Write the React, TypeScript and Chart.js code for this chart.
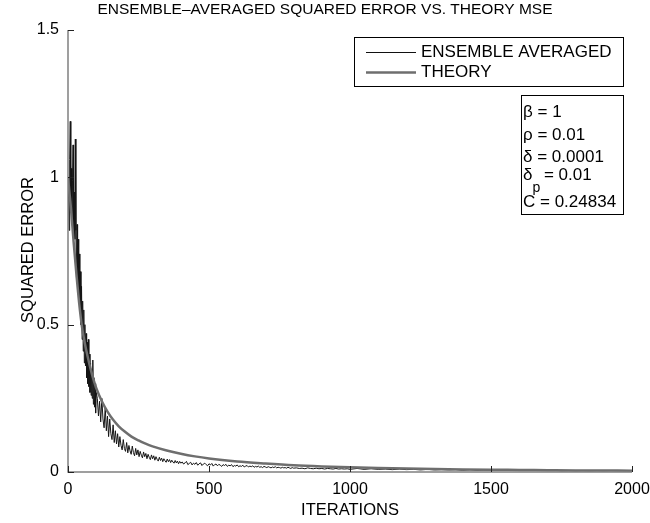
import React, { useEffect, useRef } from "react";
import { Chart, registerables } from "chart.js";

Chart.register(...registerables);

const TITLE = "ENSEMBLE\u2013AVERAGED SQUARED ERROR VS. THEORY MSE";
const X_LABEL = "ITERATIONS";
const Y_LABEL = "SQUARED ERROR";
const X_TICKS = [0, 500, 1000, 1500, 2000];
const Y_TICKS = [0, 0.5, 1, 1.5];
const Y_TICK_LABELS = ["0", "0.5", "1", "1.5"];
const LEGEND_LABELS = ["ENSEMBLE AVERAGED", "THEORY"];

// Theory MSE curve (iteration, value)
const theoryIter = [0, 5, 10, 20, 30, 40, 50, 60, 70, 80, 90, 100, 120, 140, 160, 180, 200, 225, 250, 275, 300, 350, 400, 450, 500, 600, 700, 800, 900, 1000, 1100, 1200, 1300, 1400, 1500, 1600, 1700, 1800, 1900, 2000];
const theoryVal = [1.0, 0.95, 0.9, 0.78, 0.67, 0.57, 0.49, 0.435, 0.39, 0.35, 0.315, 0.285, 0.24, 0.205, 0.177, 0.155, 0.138, 0.12, 0.107, 0.096, 0.087, 0.073, 0.062, 0.053, 0.046, 0.036, 0.029, 0.023, 0.019, 0.016, 0.0135, 0.0115, 0.01, 0.0088, 0.0078, 0.007, 0.0062, 0.0055, 0.005, 0.0045];

// Ensemble-averaged squared error
// segment A: iterations 0..100 step 2
const ensA = [
  1.0, 0.93, 0.82, 1.06, 1.19, 0.88, 1.03, 0.84, 0.99, 1.11,
  0.8, 0.95, 0.79, 1.13, 0.82, 0.66, 0.84, 0.62, 0.79, 0.6,
  0.74, 0.55, 0.68, 0.5, 0.63, 0.45, 0.58, 0.41, 0.55, 0.37,
  0.5, 0.36, 0.47, 0.32, 0.44, 0.3, 0.45, 0.29, 0.4, 0.27,
  0.37, 0.26, 0.35, 0.25, 0.38, 0.23, 0.32, 0.22, 0.3, 0.2,
  0.27,
];
// segment B: iterations 104..400 step 4
const ensB = [
  0.25, 0.19, 0.24, 0.17, 0.25, 0.18, 0.15, 0.22, 0.14, 0.19,
  0.12, 0.18, 0.13, 0.11, 0.16, 0.1, 0.14, 0.095, 0.13, 0.085,
  0.12, 0.09, 0.075, 0.11, 0.08, 0.07, 0.1, 0.065, 0.09, 0.072,
  0.06, 0.088, 0.066, 0.055, 0.08, 0.058, 0.075, 0.052, 0.07, 0.057,
  0.048, 0.068, 0.052, 0.063, 0.045, 0.06, 0.05, 0.042, 0.058, 0.045,
  0.055, 0.04, 0.052, 0.043, 0.037, 0.05, 0.039, 0.047, 0.035, 0.045,
  0.038, 0.033, 0.044, 0.035, 0.042, 0.032, 0.04, 0.034, 0.03, 0.039,
  0.031, 0.037, 0.028, 0.036, 0.03,
];
// segment C: iterations 405..800 step 5
const ensC = [
  0.034, 0.027, 0.031, 0.036, 0.025, 0.029, 0.033, 0.024, 0.03, 0.026,
  0.032, 0.023, 0.028, 0.031, 0.022, 0.027, 0.03, 0.025, 0.021, 0.028,
  0.024, 0.029, 0.02, 0.025, 0.027, 0.021, 0.026, 0.023, 0.019, 0.025,
  0.022, 0.026, 0.019, 0.023, 0.021, 0.025, 0.018, 0.022, 0.02, 0.024,
  0.018, 0.021, 0.019, 0.023, 0.017, 0.02, 0.022, 0.017, 0.02, 0.018,
  0.021, 0.016, 0.019, 0.017, 0.02, 0.016, 0.018, 0.015, 0.019, 0.017,
  0.015, 0.018, 0.016, 0.014, 0.017, 0.015, 0.018, 0.014, 0.016, 0.015,
  0.013, 0.016, 0.014, 0.015, 0.013, 0.016, 0.014, 0.012, 0.015, 0.013,
];
// segment D: iterations 810..1000 step 10
const ensD = [0.014, 0.012, 0.013, 0.011, 0.014, 0.012, 0.011, 0.013, 0.011, 0.012, 0.01, 0.012, 0.011, 0.01, 0.012, 0.01, 0.011, 0.01, 0.011, 0.009];
// segment E: iterations 1025..2000 step 25
const ensE = [0.012, 0.009, 0.011, 0.009, 0.01, 0.008, 0.01, 0.008, 0.009, 0.007, 0.009, 0.007, 0.008, 0.007, 0.008, 0.006, 0.008, 0.006, 0.007, 0.006, 0.007, 0.005, 0.007, 0.005, 0.006, 0.005, 0.006, 0.005, 0.006, 0.004, 0.005, 0.004, 0.005, 0.004, 0.005, 0.004, 0.005, 0.004, 0.004, 0.004];

const FONT = '"Liberation Sans", Arial, Helvetica, sans-serif';

function segment(vals: number[], start: number, step: number) {
  return vals.map((v, i) => ({ x: start + i * step, y: v }));
}

export default function App() {
  const ref = useRef<HTMLCanvasElement | null>(null);

  useEffect(() => {
    if (!ref.current) return;
    const ensemble = [
      ...segment(ensA, 0, 2),
      ...segment(ensB, 104, 4),
      ...segment(ensC, 405, 5),
      ...segment(ensD, 810, 10),
      ...segment(ensE, 1025, 25),
    ];
    const theory = theoryIter.map((x, i) => ({ x, y: theoryVal[i] }));

    const overlay = {
      id: "overlay",
      afterDraw(chart: any) {
        const ctx = chart.ctx;
        const xs = chart.scales.x;
        const ys = chart.scales.y;
        const x0 = xs.getPixelForValue(0);
        const x1 = xs.getPixelForValue(2000);
        const y0 = ys.getPixelForValue(0);
        const y1 = ys.getPixelForValue(1.5);
        ctx.save();
        // axes
        ctx.strokeStyle = "#808080";
        ctx.lineWidth = 1.5;
        ctx.beginPath();
        ctx.moveTo(x0, y1);
        ctx.lineTo(x0, y0);
        ctx.lineTo(x1, y0);
        ctx.stroke();
        // ticks
        ctx.strokeStyle = "#222";
        ctx.lineWidth = 1;
        X_TICKS.forEach((t) => {
          const px = Math.round(xs.getPixelForValue(t)) + 0.5;
          ctx.beginPath();
          ctx.moveTo(px, y0);
          ctx.lineTo(px, y0 - 6);
          ctx.stroke();
        });
        Y_TICKS.forEach((t) => {
          const py = Math.round(ys.getPixelForValue(t)) + 0.5;
          ctx.beginPath();
          ctx.moveTo(x0, py);
          ctx.lineTo(x0 + 6, py);
          ctx.stroke();
        });
        // tick labels
        ctx.fillStyle = "#000";
        ctx.font = `16px ${FONT}`;
        ctx.textAlign = "center";
        ctx.textBaseline = "middle";
        X_TICKS.forEach((t) => {
          ctx.fillText(String(t), xs.getPixelForValue(t), y0 + 18);
        });
        ctx.textAlign = "right";
        Y_TICKS.forEach((t, i) => {
          ctx.fillText(Y_TICK_LABELS[i], x0 - 9, ys.getPixelForValue(t));
        });
        // axis titles
        ctx.font = `16.5px ${FONT}`;
        ctx.textAlign = "center";
        ctx.fillText(X_LABEL, (x0 + x1) / 2, y0 + 38);
        ctx.save();
        ctx.translate(28, 250);
        ctx.rotate(-Math.PI / 2);
        ctx.fillText(Y_LABEL, 0, 0);
        ctx.restore();
        // title
        ctx.font = `15.5px ${FONT}`;
        ctx.fillText(TITLE, 325, 10);

        // legend box
        ctx.strokeStyle = "#000";
        ctx.lineWidth = 1;
        ctx.strokeRect(354.5, 37.5, 269, 49);
        ctx.font = `17px ${FONT}`;
        ctx.textAlign = "left";
        ctx.strokeStyle = "#111";
        ctx.lineWidth = 1;
        ctx.beginPath();
        ctx.moveTo(366, 52.5);
        ctx.lineTo(416, 52.5);
        ctx.stroke();
        ctx.strokeStyle = "#6e6e6e";
        ctx.lineWidth = 2.5;
        ctx.beginPath();
        ctx.moveTo(366, 72.5);
        ctx.lineTo(416, 72.5);
        ctx.stroke();
        ctx.fillStyle = "#000";
        ctx.fillText(LEGEND_LABELS[0], 421, 52);
        ctx.fillText(LEGEND_LABELS[1], 421, 72);

        // parameter box
        ctx.strokeStyle = "#000";
        ctx.lineWidth = 1;
        ctx.strokeRect(521.5, 95.5, 102, 119);
        ctx.textBaseline = "alphabetic";
        ctx.font = `17px ${FONT}`;
        ctx.fillText("\u03b2 = 1", 523, 117);
        ctx.fillText("\u03c1 = 0.01", 523, 140);
        ctx.fillText("\u03b4 = 0.0001", 523, 162);
        ctx.fillText("\u03b4", 523, 180);
        const dw = ctx.measureText("\u03b4").width;
        ctx.font = `14px ${FONT}`;
        ctx.fillText("p", 523 + dw, 192);
        const pw = ctx.measureText("p").width;
        ctx.font = `17px ${FONT}`;
        ctx.fillText(" = 0.01", 523 + dw + pw - 1, 180);
        ctx.fillText("C = 0.24834", 523, 207);
        ctx.restore();
      },
    };

    const chart = new Chart(ref.current, {
      type: "line",
      data: {
        datasets: [
          {
            label: LEGEND_LABELS[0],
            data: ensemble,
            borderColor: "#151515",
            borderWidth: 1,
            pointRadius: 0,
            tension: 0,
            order: 1,
          },
          {
            label: LEGEND_LABELS[1],
            data: theory,
            borderColor: "#6e6e6e",
            borderWidth: 2.5,
            pointRadius: 0,
            cubicInterpolationMode: "monotone",
            order: 0,
          },
        ],
      },
      options: {
        animation: false,
        responsive: false,
        maintainAspectRatio: false,
        layout: { padding: { top: 30, left: 0, right: 18, bottom: 0 } },
        plugins: {
          legend: { display: false },
          tooltip: { enabled: false },
          title: { display: false },
        },
        scales: {
          x: {
            type: "linear",
            min: 0,
            max: 2000,
            ticks: { display: false },
            grid: { display: false },
            border: { display: false },
            afterFit: (s: any) => {
              s.height = 51;
            },
          },
          y: {
            type: "linear",
            min: 0,
            max: 1.5,
            ticks: { display: false },
            grid: { display: false },
            border: { display: false },
            afterFit: (s: any) => {
              s.width = 68;
            },
          },
        },
      },
      plugins: [overlay],
    } as any);
    return () => chart.destroy();
  }, []);

  return (
    <div style={{ position: "fixed", left: 0, top: 0, width: 650, height: 523, background: "#fff" }}>
      <canvas ref={ref} width={650} height={523} style={{ width: 650, height: 523 }} />
    </div>
  );
}
